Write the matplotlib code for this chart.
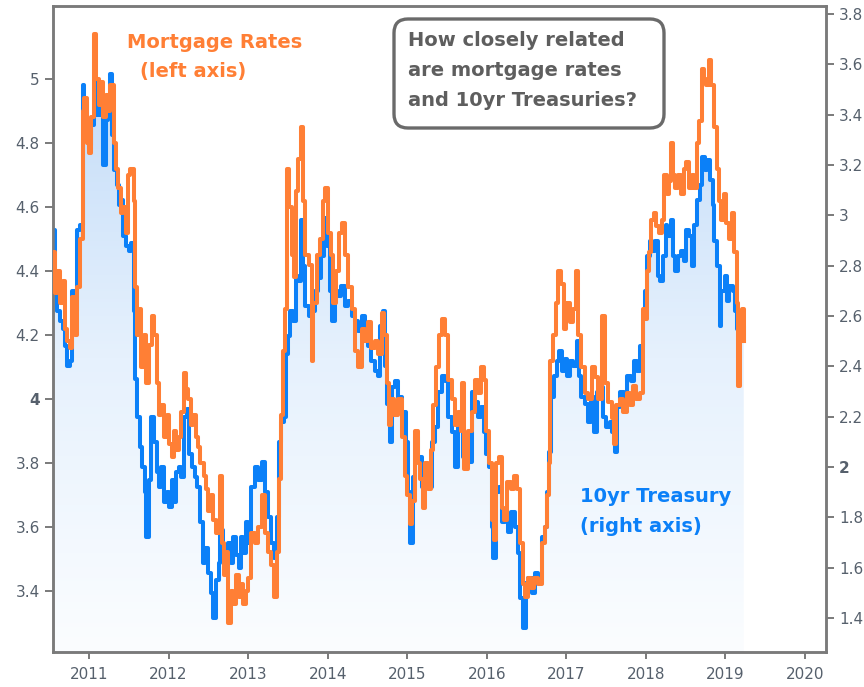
import numpy as np
import matplotlib.pyplot as plt
from matplotlib.colors import LinearSegmentedColormap
from matplotlib.patches import FancyBboxPatch
from matplotlib.transforms import IdentityTransform

# ------------------------
# Data (decimal years)
# ------------------------
mort_years = [
    2010.55, 2010.57, 2010.60, 2010.64, 2010.67, 2010.70, 2010.73, 2010.76, 2010.79, 2010.82,
    2010.85, 2010.89, 2010.92, 2010.94, 2010.97, 2011.00, 2011.03, 2011.06, 2011.09, 2011.12,
    2011.15, 2011.18, 2011.21, 2011.24, 2011.27, 2011.31, 2011.34, 2011.37, 2011.40, 2011.43,
    2011.46, 2011.49, 2011.52, 2011.56, 2011.58, 2011.61, 2011.63, 2011.66, 2011.69, 2011.72,
    2011.76, 2011.79, 2011.82, 2011.85, 2011.88, 2011.91, 2011.94, 2011.98, 2012.01, 2012.04,
    2012.07, 2012.10, 2012.13, 2012.16, 2012.19, 2012.22, 2012.25, 2012.28, 2012.31, 2012.34,
    2012.37, 2012.40, 2012.44, 2012.47, 2012.50, 2012.53, 2012.56, 2012.60, 2012.63, 2012.65,
    2012.67, 2012.70, 2012.72, 2012.75, 2012.78, 2012.81, 2012.85, 2012.88, 2012.91, 2012.94,
    2012.98, 2013.00, 2013.04, 2013.09, 2013.13, 2013.18, 2013.21, 2013.25, 2013.29, 2013.33,
    2013.36, 2013.39, 2013.41, 2013.44, 2013.47, 2013.49, 2013.52, 2013.55, 2013.58, 2013.60,
    2013.63, 2013.66, 2013.69, 2013.72, 2013.76, 2013.80, 2013.82, 2013.86, 2013.90, 2013.94,
    2013.97, 2014.01, 2014.04, 2014.07, 2014.11, 2014.14, 2014.18, 2014.22, 2014.26, 2014.30,
    2014.34, 2014.38, 2014.43, 2014.47, 2014.51, 2014.55, 2014.59, 2014.63, 2014.68, 2014.71,
    2014.74, 2014.77, 2014.80, 2014.84, 2014.89, 2014.93, 2014.97, 2015.00, 2015.03, 2015.06,
    2015.10, 2015.13, 2015.16, 2015.20, 2015.23, 2015.26, 2015.30, 2015.33, 2015.36, 2015.40,
    2015.44, 2015.47, 2015.51, 2015.56, 2015.60, 2015.64, 2015.67, 2015.69, 2015.72, 2015.77,
    2015.81, 2015.85, 2015.89, 2015.93, 2015.97, 2015.99, 2016.03, 2016.06, 2016.09, 2016.12,
    2016.16, 2016.19, 2016.22, 2016.26, 2016.30, 2016.34, 2016.38, 2016.42, 2016.45, 2016.48,
    2016.52, 2016.56, 2016.60, 2016.65, 2016.69, 2016.73, 2016.76, 2016.78, 2016.80, 2016.83,
    2016.87, 2016.90, 2016.93, 2016.97, 2017.00, 2017.04, 2017.08, 2017.12, 2017.15, 2017.19,
    2017.23, 2017.27, 2017.32, 2017.36, 2017.40, 2017.45, 2017.48, 2017.52, 2017.57, 2017.60,
    2017.63, 2017.67, 2017.71, 2017.76, 2017.80, 2017.84, 2017.88, 2017.92, 2017.96, 2017.99,
    2018.01, 2018.04, 2018.07, 2018.10, 2018.13, 2018.17, 2018.20, 2018.23, 2018.26, 2018.29,
    2018.31, 2018.34, 2018.37, 2018.41, 2018.44, 2018.48, 2018.51, 2018.54, 2018.58, 2018.61,
    2018.64, 2018.67, 2018.70, 2018.73, 2018.76, 2018.79, 2018.82, 2018.85, 2018.89, 2018.92,
    2018.95, 2018.98, 2019.01, 2019.04, 2019.08, 2019.11, 2019.14, 2019.16, 2019.18, 2019.21,
    2019.23,
]
mort_rates = [
    4.46, 4.33, 4.40, 4.30, 4.37, 4.22, 4.18, 4.16, 4.32, 4.20,
    4.35, 4.50, 4.90, 4.94, 4.80, 4.77, 4.88, 5.14, 5.00, 4.92,
    4.99, 4.88, 4.95, 4.90, 4.98, 4.80, 4.72, 4.66, 4.58, 4.60,
    4.52, 4.70, 4.72, 4.62, 4.35, 4.20, 4.28, 4.10, 4.20, 4.05,
    4.17, 4.26, 4.20, 4.05, 3.95, 3.98, 3.88, 3.95, 3.86, 3.82,
    3.90, 3.84, 3.88, 3.96, 4.08, 4.03, 4.00, 3.92, 3.95, 3.88,
    3.85, 3.80, 3.76, 3.72, 3.65, 3.70, 3.62, 3.58, 3.62, 3.76,
    3.55, 3.45, 3.52, 3.30, 3.40, 3.36, 3.45, 3.38, 3.42, 3.36,
    3.40, 3.44, 3.58, 3.55, 3.60, 3.70, 3.58, 3.52, 3.48, 3.38,
    3.52, 3.75, 3.95, 4.15, 4.28, 4.72, 4.60, 4.45, 4.38, 4.65,
    4.75, 4.85, 4.62, 4.45, 4.42, 4.12, 4.30, 4.45, 4.50, 4.62,
    4.66, 4.52, 4.45, 4.30, 4.40, 4.52, 4.55, 4.45, 4.35, 4.28,
    4.15, 4.10, 4.22, 4.18, 4.24, 4.16, 4.18, 4.14, 4.27, 4.20,
    4.05, 3.92, 4.00, 3.95, 4.00, 3.88, 3.76, 3.70, 3.61, 3.68,
    3.90, 3.80, 3.75, 3.66, 3.80, 3.72, 3.84, 3.98, 4.10, 4.20,
    4.25, 4.20, 4.06, 4.00, 3.92, 3.96, 3.90, 4.05, 3.78, 3.90,
    3.96, 4.06, 4.02, 4.10, 4.06, 3.90, 3.80, 3.62, 3.56, 3.80,
    3.82, 3.66, 3.62, 3.74, 3.72, 3.76, 3.72, 3.55, 3.42, 3.38,
    3.44, 3.41, 3.44, 3.42, 3.55, 3.60, 3.70, 3.80, 4.12, 4.20,
    4.30, 4.40, 4.36, 4.22, 4.30, 4.24, 4.28, 4.40, 4.20, 4.10,
    4.02, 4.00, 4.10, 4.07, 4.00, 4.26, 4.05, 3.99, 3.94, 3.86,
    3.98, 4.00, 3.96, 4.02, 3.98, 4.04, 4.00, 4.02, 4.28, 4.25,
    4.40, 4.46, 4.56, 4.58, 4.54, 4.52, 4.56, 4.70, 4.64, 4.68,
    4.80, 4.70, 4.66, 4.70, 4.64, 4.72, 4.74, 4.66, 4.70, 4.66,
    4.80, 4.87, 5.03, 5.00, 4.98, 5.06, 4.98, 4.85, 4.72, 4.62,
    4.56, 4.64, 4.55, 4.50, 4.58, 4.46, 4.30, 4.04, 4.22, 4.28,
    4.18,
]

tsy_years = [
    2010.55, 2010.57, 2010.60, 2010.64, 2010.67, 2010.70, 2010.73, 2010.76, 2010.79, 2010.82,
    2010.85, 2010.89, 2010.92, 2010.94, 2010.97, 2011.00, 2011.03, 2011.06, 2011.10, 2011.13,
    2011.16, 2011.18, 2011.21, 2011.24, 2011.26, 2011.29, 2011.32, 2011.35, 2011.38, 2011.41,
    2011.43, 2011.46, 2011.50, 2011.53, 2011.56, 2011.58, 2011.61, 2011.64, 2011.67, 2011.70,
    2011.72, 2011.75, 2011.78, 2011.82, 2011.85, 2011.88, 2011.91, 2011.94, 2011.98, 2012.01,
    2012.04, 2012.07, 2012.10, 2012.13, 2012.16, 2012.19, 2012.23, 2012.26, 2012.29, 2012.33,
    2012.36, 2012.39, 2012.43, 2012.46, 2012.49, 2012.53, 2012.56, 2012.60, 2012.63, 2012.65,
    2012.69, 2012.72, 2012.75, 2012.78, 2012.81, 2012.85, 2012.88, 2012.91, 2012.94, 2012.98,
    2013.00, 2013.04, 2013.09, 2013.13, 2013.18, 2013.21, 2013.25, 2013.29, 2013.33, 2013.36,
    2013.39, 2013.42, 2013.45, 2013.48, 2013.50, 2013.53, 2013.57, 2013.60, 2013.63, 2013.66,
    2013.69, 2013.72, 2013.76, 2013.80, 2013.84, 2013.88, 2013.92, 2013.96, 2013.99, 2014.03,
    2014.06, 2014.09, 2014.13, 2014.17, 2014.22, 2014.26, 2014.30, 2014.34, 2014.38, 2014.43,
    2014.47, 2014.51, 2014.55, 2014.59, 2014.63, 2014.66, 2014.69, 2014.72, 2014.75, 2014.78,
    2014.81, 2014.85, 2014.89, 2014.94, 2014.98, 2015.01, 2015.04, 2015.07, 2015.10, 2015.14,
    2015.18, 2015.22, 2015.26, 2015.31, 2015.35, 2015.39, 2015.44, 2015.47, 2015.51, 2015.56,
    2015.60, 2015.64, 2015.67, 2015.70, 2015.74, 2015.77, 2015.81, 2015.85, 2015.89, 2015.93,
    2015.97, 2015.99, 2016.03, 2016.06, 2016.08, 2016.11, 2016.15, 2016.19, 2016.23, 2016.27,
    2016.31, 2016.36, 2016.39, 2016.42, 2016.46, 2016.49, 2016.52, 2016.57, 2016.61, 2016.65,
    2016.69, 2016.73, 2016.76, 2016.78, 2016.81, 2016.84, 2016.88, 2016.91, 2016.94, 2016.98,
    2017.01, 2017.05, 2017.09, 2017.13, 2017.16, 2017.19, 2017.23, 2017.27, 2017.31, 2017.35,
    2017.39, 2017.42, 2017.46, 2017.50, 2017.55, 2017.58, 2017.61, 2017.64, 2017.68, 2017.72,
    2017.76, 2017.81, 2017.85, 2017.89, 2017.92, 2017.96, 2017.99, 2018.01, 2018.05, 2018.08,
    2018.12, 2018.15, 2018.18, 2018.22, 2018.25, 2018.27, 2018.31, 2018.34, 2018.37, 2018.41,
    2018.44, 2018.48, 2018.51, 2018.54, 2018.58, 2018.61, 2018.64, 2018.68, 2018.71, 2018.74,
    2018.77, 2018.80, 2018.84, 2018.86, 2018.89, 2018.93, 2018.95, 2018.99, 2019.02, 2019.05,
    2019.09, 2019.12, 2019.15, 2019.17, 2019.20, 2019.23,
]
tsy_rates = [
    2.94, 2.70, 2.62, 2.58, 2.55, 2.48, 2.40, 2.42, 2.70, 2.62,
    2.94, 2.96, 3.52, 3.45, 3.32, 3.28, 3.36, 3.40, 3.53, 3.40,
    3.45, 3.20, 3.38, 3.45, 3.56, 3.32, 3.18, 3.12, 3.04, 3.06,
    2.92, 2.88, 2.86, 2.89, 2.62, 2.35, 2.20, 2.08, 2.00, 1.90,
    1.72, 1.95, 2.20, 2.10, 1.98, 1.92, 2.00, 1.86, 1.90, 1.84,
    1.95, 1.86, 1.98, 2.00, 1.96, 2.20, 2.23, 2.05, 2.00, 1.96,
    1.92, 1.78, 1.62, 1.68, 1.58, 1.50, 1.40, 1.55, 1.62, 1.75,
    1.66, 1.60, 1.70, 1.62, 1.72, 1.65, 1.60, 1.72, 1.66, 1.78,
    1.70, 1.92, 2.00, 1.95, 2.02, 1.90, 1.80, 1.70, 1.64, 1.80,
    2.10, 2.18, 2.20, 2.45, 2.52, 2.62, 2.58, 2.76, 2.74, 2.98,
    2.80, 2.64, 2.60, 2.62, 2.70, 2.75, 2.84, 2.99, 2.88, 2.70,
    2.58, 2.70, 2.68, 2.72, 2.64, 2.66, 2.60, 2.58, 2.54, 2.60,
    2.50, 2.48, 2.42, 2.38, 2.36, 2.56, 2.62, 2.40, 2.25, 2.10,
    2.32, 2.34, 2.28, 2.22, 2.10, 1.90, 1.70, 1.96, 2.12, 2.04,
    1.92, 1.95, 1.92, 2.10, 2.16, 2.30, 2.36, 2.34, 2.20, 2.14,
    2.00, 2.16, 2.20, 2.04, 2.00, 2.02, 2.30, 2.26, 2.20, 2.24,
    2.14, 2.05, 2.00, 1.76, 1.64, 1.90, 1.92, 1.78, 1.80, 1.74,
    1.82, 1.76, 1.66, 1.48, 1.36, 1.54, 1.56, 1.50, 1.58, 1.54,
    1.72, 1.76, 1.90, 2.06, 2.28, 2.36, 2.42, 2.46, 2.38, 2.43,
    2.36, 2.42, 2.40, 2.50, 2.36, 2.28, 2.25, 2.18, 2.28, 2.14,
    2.30, 2.32, 2.20, 2.16, 2.18, 2.14, 2.06, 2.24, 2.30, 2.28,
    2.36, 2.34, 2.42, 2.38, 2.48, 2.62, 2.70, 2.84, 2.90, 2.86,
    2.90, 2.76, 2.74, 2.84, 2.96, 2.92, 2.98, 2.84, 2.78, 2.84,
    2.86, 2.82, 2.94, 2.92, 2.80, 2.96, 3.06, 3.12, 3.23, 3.18,
    3.22, 3.14, 3.04, 2.90, 2.80, 2.56, 2.70, 2.76, 2.66, 2.72,
    2.70, 2.62, 2.55, 2.52, 2.56, 2.50,
]

year_ticks = list(range(2011, 2021))
left_ticks = [3.4, 3.6, 3.8, 4.0, 4.2, 4.4, 4.6, 4.8, 5.0]
left_labels = ["3.4", "3.6", "3.8", "4", "4.2", "4.4", "4.6", "4.8", "5"]
right_ticks = [1.4, 1.6, 1.8, 2.0, 2.2, 2.4, 2.6, 2.8, 3.0, 3.2, 3.4, 3.6, 3.8]
right_labels = ["1.4", "1.6", "1.8", "2", "2.2", "2.4", "2.6", "2.8", "3", "3.2", "3.4", "3.6", "3.8"]

ORANGE = '#ff7f35'
BLUE = '#0b80f8'
SPINE = '#7a7a7a'
LABEL = '#56606c'
BOX_TXT = '#5e5e5e'

# ------------------------
# Figure
# ------------------------
fig = plt.figure(figsize=(8.64, 6.87), dpi=100)
ax = fig.add_axes([53 / 864, 35 / 687, 773 / 864, 646 / 687])
ax2 = ax.twinx()

x_lim = (2010.548, 2020.264)
left_lim = (3.209, 5.228)
right_lim = (1.265, 3.832)

# gradient fill under the treasury line
grad = np.linspace(0, 1, 256).reshape(-1, 1)
cmap = LinearSegmentedColormap.from_list('fade', ['#fbfdff', '#e6f1fd', '#c3dcf8'])
im = ax2.imshow(grad, cmap=cmap, aspect='auto', origin='lower',
                extent=[tsy_years[0], tsy_years[-1], right_lim[0], 3.6], zorder=1)
poly = ax2.fill_between(tsy_years, tsy_rates, right_lim[0], step='post',
                        facecolor='none', edgecolor='none')
im.set_clip_path(poly.get_paths()[0], ax2.transData)

ax2.plot(tsy_years, tsy_rates, color=BLUE, lw=2.9, drawstyle='steps-post', zorder=3)
ax.plot(mort_years, mort_rates, color=ORANGE, lw=2.9, drawstyle='steps-post', zorder=3)

# mortgage line on top of treasury line
ax.set_zorder(ax2.get_zorder() + 1)
ax.patch.set_visible(False)

ax.set_xlim(*x_lim)
ax.set_ylim(*left_lim)
ax2.set_ylim(*right_lim)

ax.set_xticks(year_ticks)
ax.set_xticklabels([str(y) for y in year_ticks])
ax.set_yticks(left_ticks)
ax.set_yticklabels(left_labels)
ax2.set_yticks(right_ticks)
ax2.set_yticklabels(right_labels)

for a in (ax, ax2):
    for s in a.spines.values():
        s.set_color(SPINE)
        s.set_linewidth(1.8)
    a.tick_params(direction='out', length=6, width=1.4, color=SPINE,
                  labelcolor=LABEL, labelsize=11)
ax.tick_params(axis='x', length=5, pad=6)

for lbl in ax.get_yticklabels():
    if lbl.get_text() == "4":
        lbl.set_fontweight('bold')
for lbl in ax2.get_yticklabels():
    if lbl.get_text() == "2":
        lbl.set_fontweight('bold')

# ------------------------
# Annotations (figure pixel positions)
# ------------------------
W, H = 864, 687


def put(x, y, s, color, size=14):
    fig.text(x / W, 1 - y / H, s, color=color, fontsize=size, fontweight='bold',
             ha='left', va='center', zorder=10)


put(127, 42, "Mortgage Rates", ORANGE)
put(140, 72, "(left axis)", ORANGE)
put(580, 497, "10yr Treasury", BLUE)
put(580, 527, "(right axis)", BLUE)

box = FancyBboxPatch((394, H - 128), 270, 109,
                     boxstyle='round,pad=0,rounding_size=14',
                     transform=IdentityTransform(), facecolor='white',
                     edgecolor='#6a6a6a', linewidth=2.4, zorder=5)
fig.patches.append(box)
put(408, 40, "How closely related", BOX_TXT)
put(408, 70, "are mortgage rates", BOX_TXT)
put(408, 100, "and 10yr Treasuries?", BOX_TXT)

fig.savefig('out.png', dpi=100)
